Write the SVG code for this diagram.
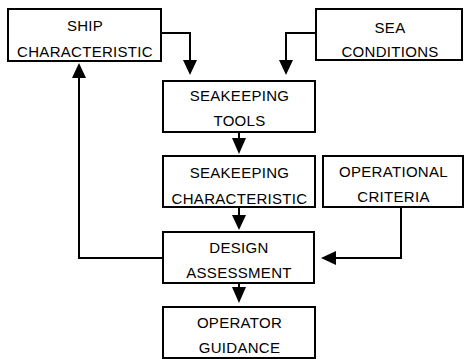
<svg xmlns="http://www.w3.org/2000/svg" width="471" height="359" viewBox="0 0 471 359">
<style>
.box{fill:#fff;stroke:#000;stroke-width:2}
.t{font-family:"Liberation Sans",Arial,sans-serif;font-size:15px;letter-spacing:0.3px;text-anchor:middle;fill:#000}
.c{fill:none;stroke:#000;stroke-width:2}
.h{fill:#000}
</style>
<rect width="471" height="359" fill="#fff"/>
<g id="connectors">
<path class="c" d="M161,33 H190 V62"/>
<polygon class="h" points="183,60 197,60 190,75"/>
<path class="c" d="M316,33 H286 V62"/>
<polygon class="h" points="279,60 293,60 286,75"/>
<path class="c" d="M239,132 V140"/>
<polygon class="h" points="232,138 246,138 239,154"/>
<path class="c" d="M239,207 V216"/>
<polygon class="h" points="232,215 246,215 239,230"/>
<path class="c" d="M239,283 V290"/>
<polygon class="h" points="232,287 246,287 239,303"/>
<path class="c" d="M401,207 V258 H334"/>
<polygon class="h" points="336,251 336,265 321,258"/>
<path class="c" d="M162,258 H79 V76"/>
<polygon class="h" points="72,78 86,78 79,63"/>
</g>
<g id="ship">
<rect class="box" x="8" y="9" width="153" height="52"/>
<text class="t" x="85" y="31">SHIP</text>
<text class="t" x="85" y="57">CHARACTERISTIC</text>
</g>
<g id="sea">
<rect class="box" x="316" y="9" width="146" height="51"/>
<text class="t" x="390" y="33">SEA</text>
<text class="t" x="390" y="57">CONDITIONS</text>
</g>
<g id="tools">
<rect class="box" x="163" y="81" width="152" height="51"/>
<text class="t" x="239.5" y="101">SEAKEEPING</text>
<text class="t" x="239.5" y="126">TOOLS</text>
</g>
<g id="skchar">
<rect class="box" x="163" y="156" width="152" height="51"/>
<text class="t" x="239.5" y="178">SEAKEEPING</text>
<text class="t" x="239.5" y="204">CHARACTERISTIC</text>
</g>
<g id="opcrit">
<rect class="box" x="323" y="156" width="140" height="51"/>
<text class="t" x="393.5" y="177">OPERATIONAL</text>
<text class="t" x="393.5" y="202">CRITERIA</text>
</g>
<g id="design">
<rect class="box" x="163" y="232" width="151" height="51"/>
<text class="t" x="239" y="253">DESIGN</text>
<text class="t" x="239" y="278">ASSESSMENT</text>
</g>
<g id="operator">
<rect class="box" x="163" y="307" width="152" height="51"/>
<text class="t" x="239.5" y="328">OPERATOR</text>
<text class="t" x="239.5" y="353">GUIDANCE</text>
</g>
</svg>
